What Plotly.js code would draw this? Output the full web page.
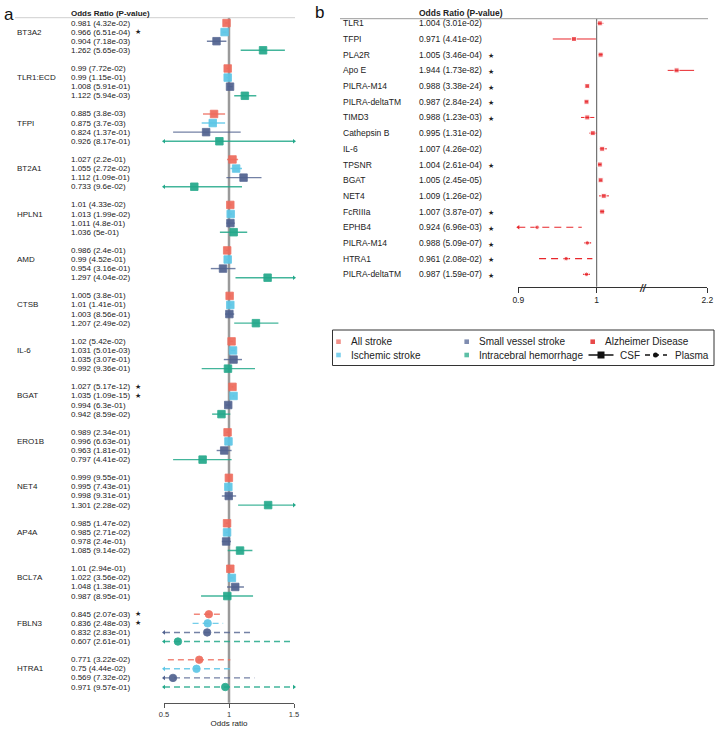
<!DOCTYPE html>
<html><head><meta charset="utf-8">
<script src="https://cdn.plot.ly/plotly-3.0.1.min.js"></script>
<style>html,body{margin:0;padding:0;background:#fff}#chart{width:720px;height:731px}</style>
</head><body><div id="chart"></div>
<script>
// ---------- Panel a data ----------
const genesA = ['BT3A2','TLR1:ECD','TFPI','BT2A1','HPLN1','AMD','CTSB','IL-6','BGAT','ERO1B','NET4','AP4A','BCL7A','FBLN3','HTRA1'];
const sampleA = ['CSF','CSF','CSF','CSF','CSF','CSF','CSF','CSF','CSF','CSF','CSF','CSF','CSF','Plasma','Plasma'];
const outcomesA = ['All stroke','Ischemic stroke','Small vessel stroke','Intracebral hemorrhage'];

const orAll = [0.981,0.99,0.885,1.027,1.01,0.986,1.005,1.02,1.027,0.989,0.999,0.985,1.01,0.845,0.771];
const pAll  = ['4.32e-02','7.72e-02','3.8e-03','2.2e-01','4.33e-02','2.4e-01','3.8e-01','5.42e-02','5.17e-12','2.34e-01','9.55e-01','1.47e-02','2.94e-01','2.07e-03','3.22e-02'];
const loAll = [0.972,0.98,0.80,0.985,1.0,0.976,0.995,1.01,1.02,0.979,0.99,0.975,1.0,0.73,0.53];
const hiAll = [0.99,1.0,0.97,1.07,1.02,0.996,1.015,1.03,1.034,0.999,1.008,0.995,1.02,0.96,1.01];
const starAll = [0,0,0,0,0,0,0,0,1,0,0,0,0,1,0];

const orIsc = [0.966,0.99,0.875,1.055,1.013,0.99,1.01,1.031,1.035,0.996,0.995,0.985,1.022,0.836,0.75];
const pIsc  = ['6.51e-04','1.15e-01','3.7e-03','2.72e-02','1.99e-02','4.52e-01','1.41e-01','5.01e-03','1.09e-15','6.63e-01','7.43e-01','2.71e-02','3.56e-02','2.48e-03','4.44e-02'];
const loIsc = [0.95,0.98,0.79,1.01,1.003,0.98,1.0,1.015,1.028,0.986,0.985,0.975,1.01,0.72,0.40];
const hiIsc = [0.982,1.0,0.97,1.10,1.023,1.0,1.02,1.047,1.042,1.006,1.005,0.995,1.034,0.955,1.035];
const starIsc = [1,0,0,0,0,0,0,0,1,0,0,0,0,1,0];

const orSvs = [0.904,1.008,0.824,1.112,1.011,0.954,1.003,1.035,0.994,0.963,0.998,0.978,1.048,0.832,0.569];
const pSvs  = ['7.18e-03','5.91e-01','1.37e-01','1.09e-01','4.8e-01','3.16e-01','8.56e-01','3.07e-01','6.3e-01','1.81e-01','9.31e-01','2.4e-01','1.38e-01','2.83e-01','7.32e-02'];
const loSvs = [0.83,0.99,0.57,0.98,0.98,0.86,0.97,0.96,0.975,0.905,0.945,0.945,0.985,0.40,0.30];
const hiSvs = [0.98,1.027,1.09,1.25,1.045,1.05,1.04,1.10,1.013,1.02,1.055,1.015,1.115,1.175,1.195];
const starSvs = [0,0,0,0,0,0,0,0,0,0,0,0,0,0,0];

const orIch = [1.262,1.122,0.926,0.733,1.036,1.297,1.207,0.992,0.942,0.797,1.301,1.085,0.987,0.607,0.971];
const pIch  = ['5.65e-03','5.94e-03','8.17e-01','9.6e-02','5e-01','4.04e-02','2.49e-02','9.36e-01','8.59e-02','4.41e-02','2.28e-02','9.14e-02','8.95e-01','2.61e-01','9.57e-01'];
const loIch = [1.09,1.04,0.30,0.40,0.93,1.05,1.04,0.79,0.87,0.57,1.07,0.99,0.785,0.30,0.35];
const hiIch = [1.43,1.21,1.80,1.10,1.14,1.60,1.38,1.20,1.01,1.02,1.58,1.18,1.185,1.49,1.80];
const starIch = [0,0,0,0,0,0,0,0,0,0,0,0,0,0,0];

const xTicksA = [0.5, 1, 1.5];
const xTickTextA = ['0.5','1','1.5'];

// ---------- Panel b data ----------
const genesB = ['TLR1','TFPI','PLA2R','Apo E','PILRA-M14','PILRA-deltaTM','TIMD3','Cathepsin B','IL-6','TPSNR','BGAT','NET4','FcRIIIa','EPHB4','PILRA-M14','HTRA1','PILRA-deltaTM'];
const sampleB = ['CSF','CSF','CSF','CSF','CSF','CSF','CSF','CSF','CSF','CSF','CSF','CSF','CSF','Plasma','Plasma','Plasma','Plasma'];
const orB = [1.004,0.971,1.005,1.944,0.988,0.987,0.988,0.995,1.007,1.004,1.005,1.009,1.007,0.924,0.988,0.961,0.987];
const pB  = ['3.01e-02','4.41e-02','3.46e-04','1.73e-82','3.38e-24','2.84e-24','1.23e-03','1.31e-02','4.26e-02','2.61e-04','2.45e-05','1.26e-02','3.87e-07','6.96e-03','5.09e-07','2.08e-02','1.59e-07'];
const loB = [1.0005,0.944,1.002,1.87,0.986,0.985,0.980,0.9905,1.0035,1.002,1.003,1.003,1.004,0.85,0.984,0.9265,0.9825];
const hiB = [1.0085,0.999,1.008,2.09,0.990,0.989,0.997,1.0,1.013,1.006,1.007,1.0157,1.010,0.981,0.993,0.9945,0.9915];
const starB = [0,0,1,1,1,1,1,0,0,1,0,0,1,1,1,1,1];
const xTicksB = [0.9, 1];
const xTicksB2 = [2.2];

// ---------- styling ----------
const W = 720, H = 731;
const px = x => x / W, py = y => 1 - y / H;
const FONT = '"Liberation Sans", Arial, Helvetica, sans-serif';
const colA = ['#EE6A5B', '#5CC6E6', '#50618F', '#22A88A'];
const colAline = ['rgba(238,106,91,0.8)', 'rgba(92,198,230,0.85)', 'rgba(80,97,143,0.8)', 'rgba(34,168,138,0.85)'];
const colLegend = ['#F2918A', '#7DD0EC', '#7F8CB0', '#5DBFA6'];
const colB = '#E8262B';
const A_MIN = xTicksA[0], A_MAX = xTicksA[2];
const B_MIN = 0.9, B_BREAK = 1.0587, B2_MIN = 1.6617, B2_MAX = 2.2;

const seriesA = [
  {or: orAll, p: pAll, lo: loAll, hi: hiAll, star: starAll},
  {or: orIsc, p: pIsc, lo: loIsc, hi: hiIsc, star: starIsc},
  {or: orSvs, p: pSvs, lo: loSvs, hi: hiSvs, star: starSvs},
  {or: orIch, p: pIch, lo: loIch, hi: hiIch, star: starIch}
];

const traces = [];
const annotations = [];
const shapes = [];

// ---------- Panel a traces ----------
seriesA.forEach((s, k) => {
  const solid = {x: [], y: []}, dashed = {x: [], y: []};
  const arrL = {x: [], y: []}, arrR = {x: [], y: []};
  const mk = {x: [], y: [], sym: []};
  genesA.forEach((g, i) => {
    const row = i * 5 + k;
    const tgt = sampleA[i] === 'CSF' ? solid : dashed;
    tgt.x.push(Math.max(s.lo[i], A_MIN), Math.min(s.hi[i], A_MAX), null);
    tgt.y.push(row, row, null);
    if (s.lo[i] < A_MIN) { arrL.x.push(A_MIN); arrL.y.push(row); }
    if (s.hi[i] > A_MAX) { arrR.x.push(A_MAX); arrR.y.push(row); }
    mk.x.push(s.or[i]); mk.y.push(row); mk.sym.push(sampleA[i] === 'CSF' ? 'square' : 'circle');
    annotations.push({xref: 'paper', yref: 'y', x: px(69), y: row, xanchor: 'left', yanchor: 'middle',
      text: s.or[i] + ' (' + s.p[i] + ')', showarrow: false, font: {family: FONT, size: 8, color: '#222'}});
    if (s.star[i]) annotations.push({xref: 'paper', yref: 'y', x: px(133), y: row, xanchor: 'left', yanchor: 'middle',
      text: '★', showarrow: false, font: {family: 'DejaVu Sans', size: 7, color: '#222'}});
  });
  traces.push({type: 'scatter', mode: 'lines', x: solid.x, y: solid.y, xaxis: 'x', yaxis: 'y',
    line: {color: colAline[k], width: 1.4}, hoverinfo: 'skip', showlegend: false});
  traces.push({type: 'scatter', mode: 'lines', x: dashed.x, y: dashed.y, xaxis: 'x', yaxis: 'y',
    line: {color: colAline[k], width: 1.4, dash: '6px,4px'}, hoverinfo: 'skip', showlegend: false});
  traces.push({type: 'scatter', mode: 'markers', x: arrL.x, y: arrL.y, xaxis: 'x', yaxis: 'y', cliponaxis: false,
    marker: {symbol: 'triangle-left', size: 4, color: colA[k]}, hoverinfo: 'skip', showlegend: false});
  traces.push({type: 'scatter', mode: 'markers', x: arrR.x, y: arrR.y, xaxis: 'x', yaxis: 'y', cliponaxis: false,
    marker: {symbol: 'triangle-right', size: 4, color: colA[k]}, hoverinfo: 'skip', showlegend: false});
  traces.push({type: 'scatter', mode: 'markers', x: mk.x, y: mk.y, xaxis: 'x', yaxis: 'y', cliponaxis: false,
    marker: {symbol: mk.sym, size: 7.5, color: colA[k], opacity: 0.92, line: {width: 1, color: colAline[k]}},
    name: outcomesA[k], showlegend: false});
});
genesA.forEach((g, i) => {
  annotations.push({xref: 'paper', yref: 'y', x: px(15), y: i * 5 + 1, xanchor: 'left', yanchor: 'middle',
    text: g, showarrow: false, font: {family: FONT, size: 8, color: '#222'}});
});

// ---------- Panel b traces ----------
['x2', 'x3'].forEach(ax => {
  const solid = {x: [], y: []}, dashed = {x: [], y: []}, arrL = {x: [], y: []};
  const mk = {x: [], y: [], sym: [], size: []};
  orB.forEach((v, i) => {
    const onRight = v > B_BREAK;
    if ((ax === 'x3') !== onRight) return;
    const lo = ax === 'x2' ? Math.max(loB[i], B_MIN) : loB[i];
    const tgt = sampleB[i] === 'CSF' ? solid : dashed;
    tgt.x.push(lo, hiB[i], null); tgt.y.push(i, i, null);
    if (loB[i] < B_MIN) { arrL.x.push(B_MIN); arrL.y.push(i); }
    mk.x.push(v); mk.y.push(i);
    mk.sym.push(sampleB[i] === 'CSF' ? 'square' : 'circle');
    mk.size.push(sampleB[i] === 'CSF' ? 5 : 4.5);
  });
  traces.push({type: 'scatter', mode: 'lines', x: solid.x, y: solid.y, xaxis: ax, yaxis: 'y2',
    line: {color: colB, width: 1}, hoverinfo: 'skip', showlegend: false});
  traces.push({type: 'scatter', mode: 'lines', x: dashed.x, y: dashed.y, xaxis: ax, yaxis: 'y2',
    line: {color: colB, width: 1.2, dash: '7px,5px'}, hoverinfo: 'skip', showlegend: false});
  traces.push({type: 'scatter', mode: 'markers', x: arrL.x, y: arrL.y, xaxis: ax, yaxis: 'y2', cliponaxis: false,
    marker: {symbol: 'triangle-left', size: 4, color: colB}, hoverinfo: 'skip', showlegend: false});
  traces.push({type: 'scatter', mode: 'markers', x: mk.x, y: mk.y, xaxis: ax, yaxis: 'y2', cliponaxis: false,
    marker: {symbol: mk.sym, size: mk.size, color: colB}, showlegend: false});
});
genesB.forEach((g, i) => {
  annotations.push({xref: 'paper', yref: 'y2', x: px(341), y: i, xanchor: 'left', yanchor: 'middle',
    text: g, showarrow: false, font: {family: FONT, size: 8.5, color: '#222'}});
  annotations.push({xref: 'paper', yref: 'y2', x: px(416.5), y: i, xanchor: 'left', yanchor: 'middle',
    text: orB[i] + ' (' + pB[i] + ')', showarrow: false, font: {family: FONT, size: 8.5, color: '#222'}});
  if (starB[i]) annotations.push({xref: 'paper', yref: 'y2', x: px(486), y: i + 0.1, xanchor: 'left', yanchor: 'middle',
    text: '★', showarrow: false, font: {family: 'DejaVu Sans', size: 7, color: '#222'}});
});

// ---------- static text ----------
annotations.push({xref: 'paper', yref: 'paper', x: px(2), y: py(14), xanchor: 'left', yanchor: 'middle',
  text: 'a', showarrow: false, font: {family: FONT, size: 17, color: '#111'}});
annotations.push({xref: 'paper', yref: 'paper', x: px(313), y: py(13), xanchor: 'left', yanchor: 'middle',
  text: 'b', showarrow: false, font: {family: FONT, size: 17, color: '#111'}});
annotations.push({xref: 'paper', yref: 'paper', x: px(69), y: py(13.5), xanchor: 'left', yanchor: 'middle',
  text: '<b>Odds Ratio (P-value)</b>', showarrow: false, font: {family: FONT, size: 8, color: '#222'}});
annotations.push({xref: 'paper', yref: 'paper', x: px(416.5), y: py(13), xanchor: 'left', yanchor: 'middle',
  text: '<b>Odds Ratio (P-value)</b>', showarrow: false, font: {family: FONT, size: 8.5, color: '#222'}});
annotations.push({xref: 'paper', yref: 'paper', x: px(643), y: py(288), xanchor: 'center', yanchor: 'middle',
  text: '<i><b>//</b></i>', showarrow: false, font: {family: FONT, size: 10, color: '#333'}});

shapes.push({type: 'line', xref: 'paper', yref: 'paper', x0: px(15), x1: px(295), y0: py(17.7), y1: py(17.7),
  line: {color: '#cfcfcf', width: 1}});
shapes.push({type: 'line', xref: 'x', yref: 'paper', x0: 1, x1: 1, y0: py(17.7), y1: py(702.7),
  line: {color: '#9a9a9a', width: 2.5}, layer: 'below'});
shapes.push({type: 'line', xref: 'paper', yref: 'paper', x0: px(340), x1: px(708), y0: py(18.7), y1: py(18.7),
  line: {color: '#9a9a9a', width: 1}});
shapes.push({type: 'line', xref: 'x2', yref: 'paper', x0: 1, x1: 1, y0: py(18.7), y1: py(286.7),
  line: {color: '#555', width: 1}, layer: 'below'});

// ---------- legend (drawn) ----------
shapes.push({type: 'rect', xref: 'paper', yref: 'paper', x0: px(332.5), x1: px(714), y0: py(330), y1: py(365.5),
  line: {color: '#333', width: 1}});
const legItems = [
  {t: outcomesA[0], c: colLegend[0], x: 338.5, y: 341.7},
  {t: outcomesA[2], c: colLegend[2], x: 466.7, y: 341.7},
  {t: 'Alzheimer Disease', c: '#E84A4A', x: 592.7, y: 341.7},
  {t: outcomesA[1], c: colLegend[1], x: 338.5, y: 355},
  {t: outcomesA[3], c: colLegend[3], x: 466.7, y: 355}
];
legItems.forEach(it => {
  shapes.push({type: 'rect', xref: 'paper', yref: 'paper', x0: px(it.x - 2.3), x1: px(it.x + 2.3),
    y0: py(it.y - 2.3), y1: py(it.y + 2.3), line: {width: 0}, fillcolor: it.c});
  annotations.push({xref: 'paper', yref: 'paper', x: px(it.x + 10), y: py(it.y), xanchor: 'left', yanchor: 'middle',
    text: it.t, showarrow: false, font: {family: FONT, size: 10, color: '#222'}});
});
shapes.push({type: 'line', xref: 'paper', yref: 'paper', x0: px(588.5), x1: px(613.5), y0: py(355), y1: py(355),
  line: {color: '#111', width: 1.5}});
shapes.push({type: 'rect', xref: 'paper', yref: 'paper', x0: px(597.5), x1: px(604.5), y0: py(351.5), y1: py(358.5),
  line: {width: 0}, fillcolor: '#111'});
annotations.push({xref: 'paper', yref: 'paper', x: px(617.5), y: py(355), xanchor: 'left', yanchor: 'middle',
  text: 'CSF', showarrow: false, font: {family: FONT, size: 10, color: '#222'}});
shapes.push({type: 'line', xref: 'paper', yref: 'paper', x0: px(645), x1: px(667), y0: py(355), y1: py(355),
  line: {color: '#111', width: 1.5, dash: '5px,4px'}});
shapes.push({type: 'circle', xref: 'paper', yref: 'paper', x0: px(653), x1: px(658), y0: py(352.5), y1: py(357.5),
  line: {width: 0}, fillcolor: '#111'});
annotations.push({xref: 'paper', yref: 'paper', x: px(672.5), y: py(355), xanchor: 'left', yanchor: 'middle',
  text: 'Plasma', showarrow: false, font: {family: FONT, size: 10, color: '#222'}});

// ---------- layout ----------
const rowPxA = 9.096, row0A = 23;
const rowPxB = 15.69, row0B = 23.3;
const layout = {
  width: W, height: H, margin: {l: 0, r: 0, t: 0, b: 0},
  paper_bgcolor: '#fff', plot_bgcolor: 'rgba(0,0,0,0)',
  font: {family: FONT, color: '#222'},
  showlegend: false,
  xaxis: {domain: [px(164), px(294)], range: [A_MIN, A_MAX], anchor: 'y',
    tickvals: xTicksA, ticktext: xTickTextA, ticks: 'outside', ticklen: 4, tickcolor: '#555', tickwidth: 1,
    showline: true, linecolor: '#555', linewidth: 1, showgrid: false, zeroline: false,
    tickfont: {family: FONT, size: 7.5, color: '#333'},
    title: {text: 'Odds ratio', font: {family: FONT, size: 8, color: '#222'}, standoff: 1}},
  yaxis: {domain: [py(702.7), py(17.7)], range: [(702.7 - row0A) / rowPxA, (17.7 - row0A) / rowPxA],
    visible: false, showgrid: false, zeroline: false, anchor: 'x'},
  xaxis2: {domain: [px(518.3), px(642.7)], range: [B_MIN, B_BREAK], anchor: 'y2',
    tickvals: xTicksB, ticks: 'outside', ticklen: 5, tickcolor: '#333', showline: true, linecolor: '#333',
    linewidth: 1, showgrid: false, zeroline: false, tickfont: {family: FONT, size: 8.5, color: '#222'}},
  xaxis3: {domain: [px(642.7), px(707.3)], range: [B2_MIN, B2_MAX], anchor: 'y2',
    tickvals: xTicksB2, ticktext: ['2.2'], ticks: 'outside', ticklen: 5, tickcolor: '#333', showline: true,
    linecolor: '#333', linewidth: 1, showgrid: false, zeroline: false,
    tickfont: {family: FONT, size: 8.5, color: '#222'}},
  yaxis2: {domain: [py(286.7), py(18.7)], range: [(286.7 - row0B) / rowPxB, (18.7 - row0B) / rowPxB],
    visible: false, showgrid: false, zeroline: false, anchor: 'x2'},
  shapes: shapes, annotations: annotations
};
Plotly.newPlot('chart', traces, layout, {displayModeBar: false, staticPlot: true});
</script></body></html>
